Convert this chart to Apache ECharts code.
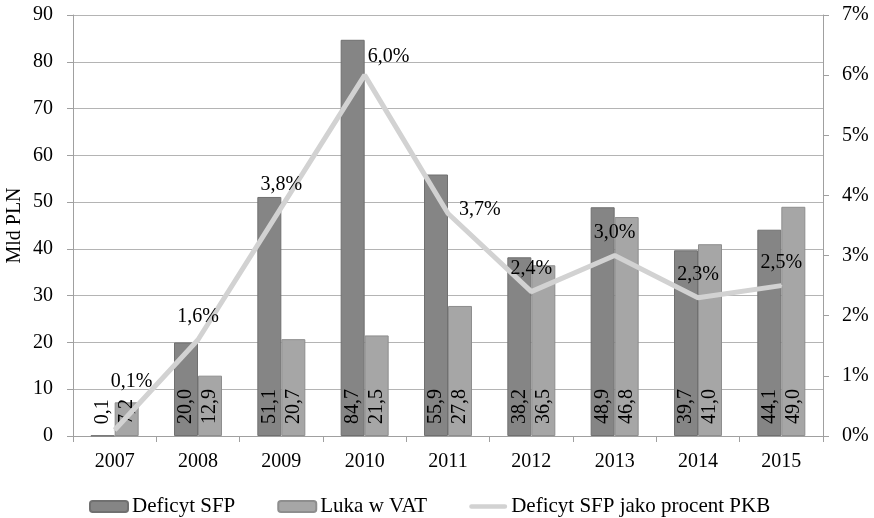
<!DOCTYPE html>
<html>
<head>
<meta charset="utf-8">
<script src="https://cdn.jsdelivr.net/npm/echarts@6/dist/echarts.min.js"></script>
<style>
  html, body { margin: 0; padding: 0; background: #fff; }
  #chart { width: 874px; height: 518px; }
</style>
</head>
<body>
<div id="chart"></div>
<script>
var years = ['2007', '2008', '2009', '2010', '2011', '2012', '2013', '2014', '2015'];
var deficytSFP = [0.1, 20.0, 51.1, 84.7, 55.9, 38.2, 48.9, 39.7, 44.1];
var lukaVAT = [7.2, 12.9, 20.7, 21.5, 27.8, 36.5, 46.8, 41.0, 49.0];
var deficytPKB = [0.1, 1.6, 3.8, 6.0, 3.7, 2.4, 3.0, 2.3, 2.5];

var font = 'Liberation Serif, Times New Roman, serif';
var fmt = function (v) { return v.toFixed(1).replace('.', ','); };

// a few line labels sit off the default spot in the original
var lineLabelPos = {
  0: { position: 'top', offset: [17, -25] },
  3: { position: 'right', distance: 2, offset: [0, -18] },
  4: { position: 'right', distance: 10, offset: [0, -4] }
};

var barLabel = {
  show: true,
  position: 'insideBottom',
  rotate: 90,
  align: 'left',
  verticalAlign: 'middle',
  distance: 12,
  fontFamily: font,
  fontSize: 20,
  color: '#000',
  formatter: function (p) { return fmt(p.value); }
};

var myChart = echarts.init(document.getElementById('chart'));
myChart.setOption({
  animation: false,
  textStyle: { fontFamily: font },
  grid: { left: 73, right: 51, top: 15, bottom: 82, outerBoundsMode: 'none', containLabel: false },
  legend: {
    top: 491,
    left: 84,
    itemWidth: 38,
    itemHeight: 11,
    itemGap: 42,
    textStyle: { fontFamily: font, fontSize: 21, color: '#000', padding: [0, 0, 0, -1] },
    data: [
      'Deficyt SFP',
      'Luka w VAT',
      { name: 'Deficyt SFP jako procent PKB', icon: 'path://M2,0 L38,0 A2.5,2.5 0 0 1 38,5 L2,5 A2.5,2.5 0 0 1 2,0 Z' }
    ]
  },
  xAxis: {
    type: 'category',
    data: years,
    axisLine: { lineStyle: { color: '#a0a0a0' } },
    axisTick: { show: true, length: 6, lineStyle: { color: '#a0a0a0' } },
    axisLabel: { fontFamily: font, fontSize: 20, color: '#000', margin: 16 }
  },
  yAxis: [
    {
      type: 'value',
      min: 0,
      max: 90,
      interval: 10,
      name: 'Mld PLN',
      nameLocation: 'middle',
      nameGap: 48,
      nameMoveOverlap: false,
      nameTextStyle: { fontFamily: font, fontSize: 20, color: '#000' },
      axisLine: { show: true, lineStyle: { color: '#a0a0a0' } },
      axisTick: { show: true, length: 6, lineStyle: { color: '#a0a0a0' } },
      axisLabel: { fontFamily: font, fontSize: 20, color: '#000', margin: 20 },
      splitLine: { lineStyle: { color: '#b4b4b4' } }
    },
    {
      type: 'value',
      min: 0,
      max: 7,
      interval: 1,
      position: 'right',
      axisLine: { show: true, lineStyle: { color: '#a0a0a0' } },
      axisTick: { show: true, length: 6, lineStyle: { color: '#a0a0a0' } },
      axisLabel: {
        fontFamily: font, fontSize: 20, color: '#000', margin: 19,
        formatter: function (v) { return v + '%'; }
      },
      splitLine: { show: false }
    }
  ],
  series: [
    {
      name: 'Deficyt SFP',
      type: 'bar',
      barWidth: 24,
      barGap: '0%',
      itemStyle: { color: '#858585', borderColor: '#707070', borderWidth: 1 },
      label: barLabel,
      data: deficytSFP
    },
    {
      name: 'Luka w VAT',
      type: 'bar',
      barWidth: 24,
      itemStyle: { color: '#a6a6a6', borderColor: '#8e8e8e', borderWidth: 1 },
      label: barLabel,
      data: lukaVAT
    },
    {
      name: 'Deficyt SFP jako procent PKB',
      type: 'line',
      yAxisIndex: 1,
      symbol: 'circle',
      symbolSize: 2,
      showSymbol: true,
      z: 5,
      lineStyle: { color: '#d2d2d2', width: 5 },
      itemStyle: { color: '#d2d2d2' },
      label: {
        show: true,
        position: 'top',
        distance: 12,
        fontFamily: font,
        fontSize: 20,
        color: '#000',
        formatter: function (p) { return fmt(p.value) + '%'; }
      },
      data: deficytPKB.map(function (v, i) {
        var item = { value: v };
        if (lineLabelPos[i]) item.label = lineLabelPos[i];
        return item;
      })
    }
  ]
});
</script>
</body>
</html>
